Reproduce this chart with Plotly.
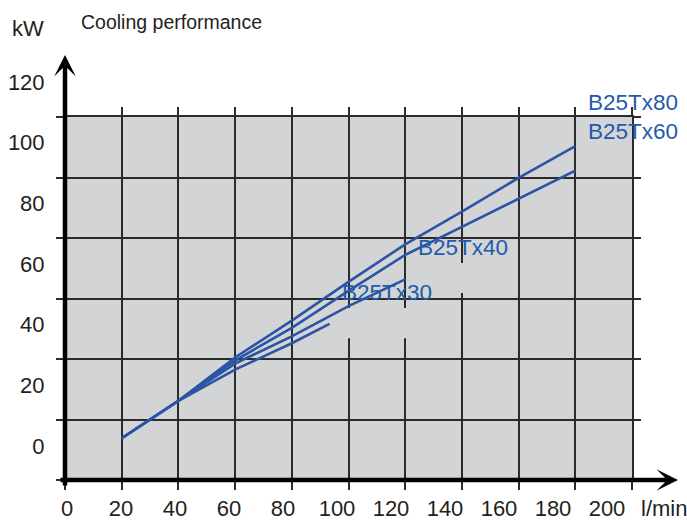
import plotly.graph_objects as go

# ---------------- data (flow l/min -> cooling kW) ----------------
x_long = [20, 40, 60, 80, 100, 120, 140, 160, 180]
tx80 = [13.8, 26.2, 40.5, 52.7, 65.5, 77.9, 88.7, 99.9, 110.4]
tx60 = [13.8, 26.2, 39.5, 50.3, 62.5, 74.4, 83.7, 93.0, 102.3]
x_tx40 = [20, 40, 60, 80, 100, 120]
tx40 = [13.8, 26.2, 38.5, 47.5, 57.5, 66.3]
x_tx30 = [20, 40, 60, 80, 93.3]
tx30 = [13.8, 26.2, 36.5, 45.2, 51.6]

x_tick_vals = [0, 20, 40, 60, 80, 100, 120, 140, 160, 180, 200]
x_tick_text = ["0", "20", "40", "60", "80", "100", "120", "140", "160", "180", "200"]
y_tick_vals = [0, 20, 40, 60, 80, 100, 120]
y_tick_text = ["0", "20", "40", "60", "80", "100", "120"]

series_names = ["B25Tx80", "B25Tx60", "B25Tx40", "B25Tx30"]

# ---------------- styling ----------------
W, H = 687, 520
FONT = "Liberation Sans, Arial, sans-serif"
LINE_C = "#2b55a4"
TEXT_BLUE = "#1f5aab"
GRID_C = "#2b2b2b"
BG_GRAY = "#d3d4d6"


def pxx(p):
    return p / W


def pxy(p):
    return 1 - p / H


fig = go.Figure()

for xs, ys, name in [(x_long, tx80, series_names[0]), (x_long, tx60, series_names[1]),
                     (x_tx40, tx40, series_names[2]), (x_tx30, tx30, series_names[3])]:
    fig.add_trace(go.Scatter(x=xs, y=ys, mode="lines", name=name,
                             line=dict(color=LINE_C, width=2.6),
                             xaxis="x", yaxis="y", showlegend=False, hoverinfo="skip"))

# invisible trace so the label subplot exists
fig.add_trace(go.Scatter(x=[None], y=[None], mode="lines", xaxis="x2", yaxis="y2",
                         showlegend=False, hoverinfo="skip"))

# label axes scale (labels sit on their own scale, as in the reference)
lx0, lxs = 67.0, 2.70      # label 0 at px 67, px per unit
ly0, lys = 446.0, 3.033    # label 0 at px 446, px per unit

fig.update_layout(
    width=W, height=H,
    margin=dict(l=0, r=0, t=0, b=0),
    paper_bgcolor="white",
    plot_bgcolor="rgba(0,0,0,0)",
    font=dict(family=FONT, color="#231f20", size=22),
    xaxis=dict(domain=[pxx(65), pxx(632)], range=[0, 200], anchor="y",
               tickmode="linear", tick0=0, dtick=20,
               showgrid=True, gridcolor=GRID_C, gridwidth=1.5,
               ticks="outside", ticklen=8, tickwidth=1.5, tickcolor=GRID_C,
               showline=True, linecolor=GRID_C, linewidth=1.5,
               mirror="ticks", zeroline=False,
               showticklabels=False, automargin=False, fixedrange=True),
    yaxis=dict(domain=[1 - 480 / H, 1 - 117 / H], range=[0, 120], anchor="x",
               tickmode="linear", tick0=0, dtick=20,
               showgrid=True, gridcolor=GRID_C, gridwidth=1.5,
               ticks="outside", ticklen=7, tickwidth=1.5, tickcolor=GRID_C,
               showline=True, linecolor=GRID_C, linewidth=1.5,
               mirror="ticks", zeroline=False,
               showticklabels=False, automargin=False, fixedrange=True),
    xaxis2=dict(domain=[pxx(65), pxx(685)], anchor="y2",
                range=[(65 - lx0) / lxs, (685 - lx0) / lxs],
                tickmode="array", tickvals=x_tick_vals, ticktext=x_tick_text,
                showgrid=False, zeroline=False, showline=False, visible=True,
                showticklabels=True,
                ticks="outside", ticklen=9, tickcolor="rgba(0,0,0,0)",
                tickfont=dict(size=22, family=FONT, color="#231f20"),
                automargin=False, fixedrange=True),
    yaxis2=dict(domain=[1 - 480 / H, 1 - 48 / H], anchor="x2",
                range=[(ly0 - 480) / lys, (ly0 - 48) / lys],
                tickmode="array", tickvals=y_tick_vals, ticktext=y_tick_text,
                showgrid=False, zeroline=False, showline=False, visible=True,
                showticklabels=True,
                ticks="outside", ticklen=15, tickcolor="rgba(0,0,0,0)",
                tickfont=dict(size=22, family=FONT, color="#231f20"),
                automargin=False, fixedrange=True),
)

# gray plotting field
fig.add_shape(type="rect", xref="x", yref="y", x0=0, x1=200, y0=0, y1=120,
              fillcolor=BG_GRAY, line=dict(width=0), layer="below")
# gray patches that interrupt the grid (left over from label boxes in the reference)
for gx0, gx1, gy0, gy1 in [(96.6, 130.2, 46.9, 56.9), (123.8, 157.0, 61.8, 71.7)]:
    fig.add_shape(type="rect", xref="x", yref="y", x0=gx0, x1=gx1, y0=gy0, y1=gy1,
                  fillcolor=BG_GRAY, line=dict(width=0), layer="between")

ann = []
# axis arrows
ann.append(dict(xref="paper", yref="paper", x=pxx(678), y=pxy(480), ax=-619, ay=0,
                text="", showarrow=True, arrowhead=3, arrowsize=0.8, arrowwidth=4.5,
                arrowcolor="black", standoff=0))
ann.append(dict(xref="paper", yref="paper", x=pxx(65), y=pxy(55), ax=0, ay=432,
                text="", showarrow=True, arrowhead=3, arrowsize=0.8, arrowwidth=4.5,
                arrowcolor="black", standoff=0))
# texts
ann.append(dict(xref="paper", yref="paper", x=pxx(28), y=pxy(28), text="kW",
                showarrow=False, font=dict(size=22, family=FONT, color="#231f20"),
                xanchor="center", yanchor="middle"))
ann.append(dict(xref="paper", yref="paper", x=pxx(171), y=pxy(22), text="Cooling performance",
                showarrow=False, font=dict(size=19.5, family=FONT, color="#231f20"),
                xanchor="center", yanchor="middle"))
ann.append(dict(xref="paper", yref="paper", x=pxx(664), y=pxy(508), text="l/min",
                showarrow=False, font=dict(size=22, family=FONT, color="#231f20"),
                xanchor="center", yanchor="middle"))
# series labels
for name, cx, cy in [(series_names[0], 632.5, 103), (series_names[1], 632.5, 131.5),
                     (series_names[2], 463.3, 247), (series_names[3], 386.7, 292)]:
    ann.append(dict(xref="paper", yref="paper", x=pxx(cx), y=pxy(cy), text=name,
                    showarrow=False, font=dict(size=22.5, family=FONT, color=TEXT_BLUE),
                    xanchor="center", yanchor="middle"))

fig.update_layout(annotations=ann)
fig.write_html("out.html", config={"displayModeBar": False},
               post_script="document.body.style.margin='0';")
